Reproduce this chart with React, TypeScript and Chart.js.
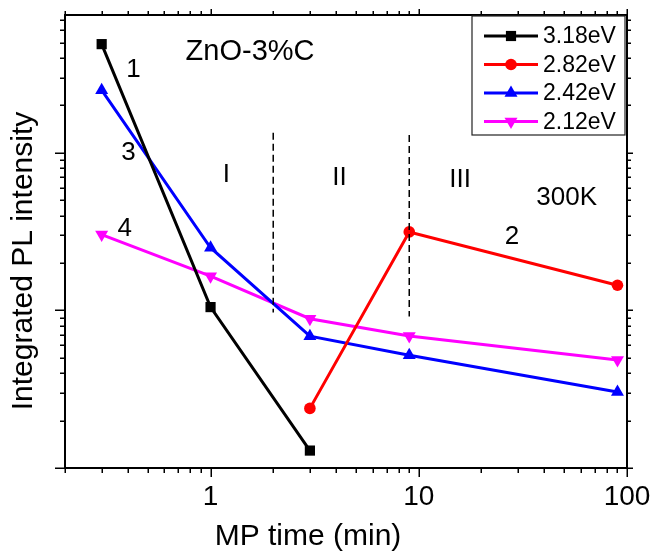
import { useEffect, useRef } from 'react';
import { Chart, registerables } from 'chart.js';

Chart.register(...registerables);

const FONT = 'Liberation Sans, Arial, sans-serif';

// MP time (min) for each series
const timesBlack = [0.3, 1, 3];
const timesRed = [3, 9, 90];
const timesBlue = [0.3, 1, 3, 9, 90];
const timesMagenta = [0.3, 1, 3, 9, 90];

// Integrated PL intensity (arb. units, log)
const pl318 = [49, 1.05, 0.129];
const pl282 = [0.239, 3.15, 1.445];
const pl242 = [25, 2.5, 0.687, 0.519, 0.304];
const pl212 = [3.03, 1.65, 0.886, 0.688, 0.485];

const seriesLabels = ['3.18eV', '2.82eV', '2.42eV', '2.12eV'];
const seriesColors = ['#000000', '#ff0000', '#0000ff', '#ff00ff'];

// region dividers (dashed)
const dividerX = [2, 9];
const dividerTop = [13.4, 13];
const dividerBottom = [0.97, 0.916];

const xTickLabels = [1, 10, 100];

const annotationTexts = ['ZnO-3%C', '1', '3', '4', 'I', 'II', 'III', '300K', '2'];
const annotationX = [0.759, 0.427, 0.404, 0.387, 1.19, 4.16, 15.8, 51.3, 28.0];
const annotationY = [43.6, 33.5, 10, 3.3, 7.26, 6.95, 6.75, 5.19, 2.94];

const xTitle = 'MP time (min)';
const yTitle = 'Integrated PL intensity';

const pts = (xs: number[], ys: number[]) => xs.map((x, i) => ({ x, y: ys[i] }));

const markerStyles = [
  { pointStyle: 'rect', radius: 7.2, rotation: 0 },
  { pointStyle: 'circle', radius: 5.8, rotation: 0 },
  { pointStyle: 'triangle', radius: 7.5, rotation: 0 },
  { pointStyle: 'triangle', radius: 7.5, rotation: 180 },
];

function drawMarker(ctx: CanvasRenderingContext2D, idx: number, x: number, y: number, color: string) {
  const m = markerStyles[idx];
  const r = m.radius;
  ctx.fillStyle = color;
  ctx.beginPath();
  if (m.pointStyle === 'rect') {
    const s = r * Math.SQRT2;
    ctx.rect(x - s / 2, y - s / 2, s, s);
  } else if (m.pointStyle === 'circle') {
    ctx.arc(x, y, r, 0, Math.PI * 2);
  } else {
    let rad = (m.rotation * Math.PI) / 180;
    ctx.moveTo(x + Math.sin(rad) * r, y - Math.cos(rad) * r);
    rad += (2 * Math.PI) / 3;
    ctx.lineTo(x + Math.sin(rad) * r, y - Math.cos(rad) * r);
    rad += (2 * Math.PI) / 3;
    ctx.lineTo(x + Math.sin(rad) * r, y - Math.cos(rad) * r);
    ctx.closePath();
  }
  ctx.fill();
}

function logTicks(min: number, max: number) {
  const out: { v: number; major: boolean }[] = [];
  for (let e = Math.floor(Math.log10(min)); e <= Math.ceil(Math.log10(max)); e++) {
    for (let m = 1; m <= 9; m++) {
      const v = m * Math.pow(10, e);
      if (v >= min * 0.9999 && v <= max * 1.0001) out.push({ v, major: m === 1 });
    }
  }
  return out;
}

const decorPlugin = {
  id: 'decor',
  afterDatasetsDraw(chart: any) {
    const ctx: CanvasRenderingContext2D = chart.ctx;
    const { left, right, top, bottom } = chart.chartArea;
    const xs = chart.scales.x;
    const ys = chart.scales.y;
    ctx.save();

    // frame
    ctx.strokeStyle = '#000';
    ctx.lineWidth = 2;
    ctx.strokeRect(left, top, right - left, bottom - top);

    // ticks
    ctx.lineWidth = 1.5;
    ctx.beginPath();
    for (const t of logTicks(xs.min, xs.max)) {
      const px = Math.round(xs.getPixelForValue(t.v)) + 0.25;
      const lb = t.major ? 9 : 5;
      const lt = t.major ? 6 : 4;
      ctx.moveTo(px, bottom);
      ctx.lineTo(px, bottom + lb);
      ctx.moveTo(px, top);
      ctx.lineTo(px, top - lt);
    }
    for (const t of logTicks(ys.min, ys.max)) {
      const py = Math.round(ys.getPixelForValue(t.v)) + 0.25;
      const ll = t.major ? 10 : 5;
      const lr = t.major ? 6 : 4;
      ctx.moveTo(left, py);
      ctx.lineTo(left - ll, py);
      ctx.moveTo(right, py);
      ctx.lineTo(right + lr, py);
    }
    ctx.stroke();

    // annotations
    ctx.fillStyle = '#000';
    ctx.textBaseline = 'middle';
    annotationTexts.forEach((txt, i) => {
      const px = xs.getPixelForValue(annotationX[i]);
      const py = ys.getPixelForValue(annotationY[i]);
      if (i === 0) {
        ctx.font = `29px ${FONT}`;
        ctx.textAlign = 'left';
      } else {
        ctx.font = `26px ${FONT}`;
        ctx.textAlign = 'center';
      }
      ctx.fillText(txt, px, py);
    });

    // axis titles
    ctx.font = `30px ${FONT}`;
    ctx.textAlign = 'center';
    ctx.textBaseline = 'middle';
    ctx.fillText(xTitle, 308, 537);
    ctx.save();
    ctx.translate(24, 261);
    ctx.rotate(-Math.PI / 2);
    ctx.fillText(yTitle, 0, 0);
    ctx.restore();

    // legend
    const bx0 = right - 155;
    const bx1 = right - 2;
    const by0 = top + 1;
    const by1 = top + 120;
    ctx.fillStyle = '#fff';
    ctx.fillRect(bx0, by0, bx1 - bx0, by1 - by0);
    ctx.strokeStyle = '#222';
    ctx.lineWidth = 1.2;
    ctx.strokeRect(bx0, by0, bx1 - bx0, by1 - by0);
    ctx.font = `23px ${FONT}`;
    ctx.textAlign = 'left';
    ctx.textBaseline = 'middle';
    seriesLabels.forEach((lab, i) => {
      const cy = by0 + 20 + i * 28.5;
      const lx0 = bx0 + 12;
      const lx1 = bx0 + 66;
      ctx.strokeStyle = seriesColors[i];
      ctx.lineWidth = 3;
      ctx.beginPath();
      ctx.moveTo(lx0, cy);
      ctx.lineTo(lx1, cy);
      ctx.stroke();
      drawMarker(ctx, i, (lx0 + lx1) / 2, cy, seriesColors[i]);
      ctx.fillStyle = '#000';
      ctx.fillText(lab, bx0 + 71, cy + 1);
    });

    ctx.restore();
  },
};

export default function App() {
  const ref = useRef<HTMLCanvasElement>(null);
  useEffect(() => {
    const seriesData = [
      pts(timesBlack, pl318),
      pts(timesRed, pl282),
      pts(timesBlue, pl242),
      pts(timesMagenta, pl212),
    ];
    const datasets: any[] = seriesData.map((d, i) => ({
      label: seriesLabels[i],
      data: d,
      borderColor: seriesColors[i],
      backgroundColor: seriesColors[i],
      borderWidth: 3,
      pointStyle: markerStyles[i].pointStyle,
      pointRadius: markerStyles[i].radius,
      pointRotation: markerStyles[i].rotation,
      pointBorderWidth: 0,
      pointHoverRadius: markerStyles[i].radius,
      tension: 0,
      clip: false,
    }));
    dividerX.forEach((x, i) => {
      datasets.unshift({
        label: 'divider' + i,
        data: [
          { x, y: dividerTop[i] },
          { x, y: dividerBottom[i] },
        ],
        borderColor: '#000',
        borderWidth: 1.5,
        borderDash: [7, 4],
        pointRadius: 0,
        pointHoverRadius: 0,
      });
    });

    const chart = new Chart(ref.current!, {
      type: 'line',
      data: { datasets },
      options: {
        animation: false,
        responsive: false,
        devicePixelRatio: 1,
        layout: { padding: { left: 0, top: 15, right: 25, bottom: 0 } },
        plugins: { legend: { display: false }, tooltip: { enabled: false } },
        events: [],
        scales: {
          x: {
            type: 'logarithmic',
            min: 0.2,
            max: 100,
            grid: { display: false, drawTicks: false },
            border: { display: false },
            ticks: {
              autoSkip: false,
              maxRotation: 0,
              minRotation: 0,
              padding: 12,
              color: '#000',
              font: { family: FONT, size: 28 },
              callback: (v: any) => {
                const n = Number(v);
                return xTickLabels.some((t) => Math.abs(t - n) < 1e-9 * t) ? String(n) : '';
              },
            },
            afterFit: (s: any) => {
              s.height = 84;
              s.paddingLeft = 0;
              s.paddingRight = 0;
            },
          },
          y: {
            type: 'logarithmic',
            min: 0.1,
            max: 75,
            grid: { display: false, drawTicks: false },
            border: { display: false },
            ticks: { display: false },
            afterFit: (s: any) => {
              s.width = 65;
              s.paddingTop = 0;
              s.paddingBottom = 0;
            },
          },
        },
      } as any,
      plugins: [decorPlugin],
    });
    return () => chart.destroy();
  }, []);
  return (
    <div style={{ position: 'absolute', left: 0, top: 0, width: 652, height: 552, background: '#fff' }}>
      <canvas ref={ref} width={652} height={552} style={{ display: 'block', width: 652, height: 552 }} />
    </div>
  );
}
